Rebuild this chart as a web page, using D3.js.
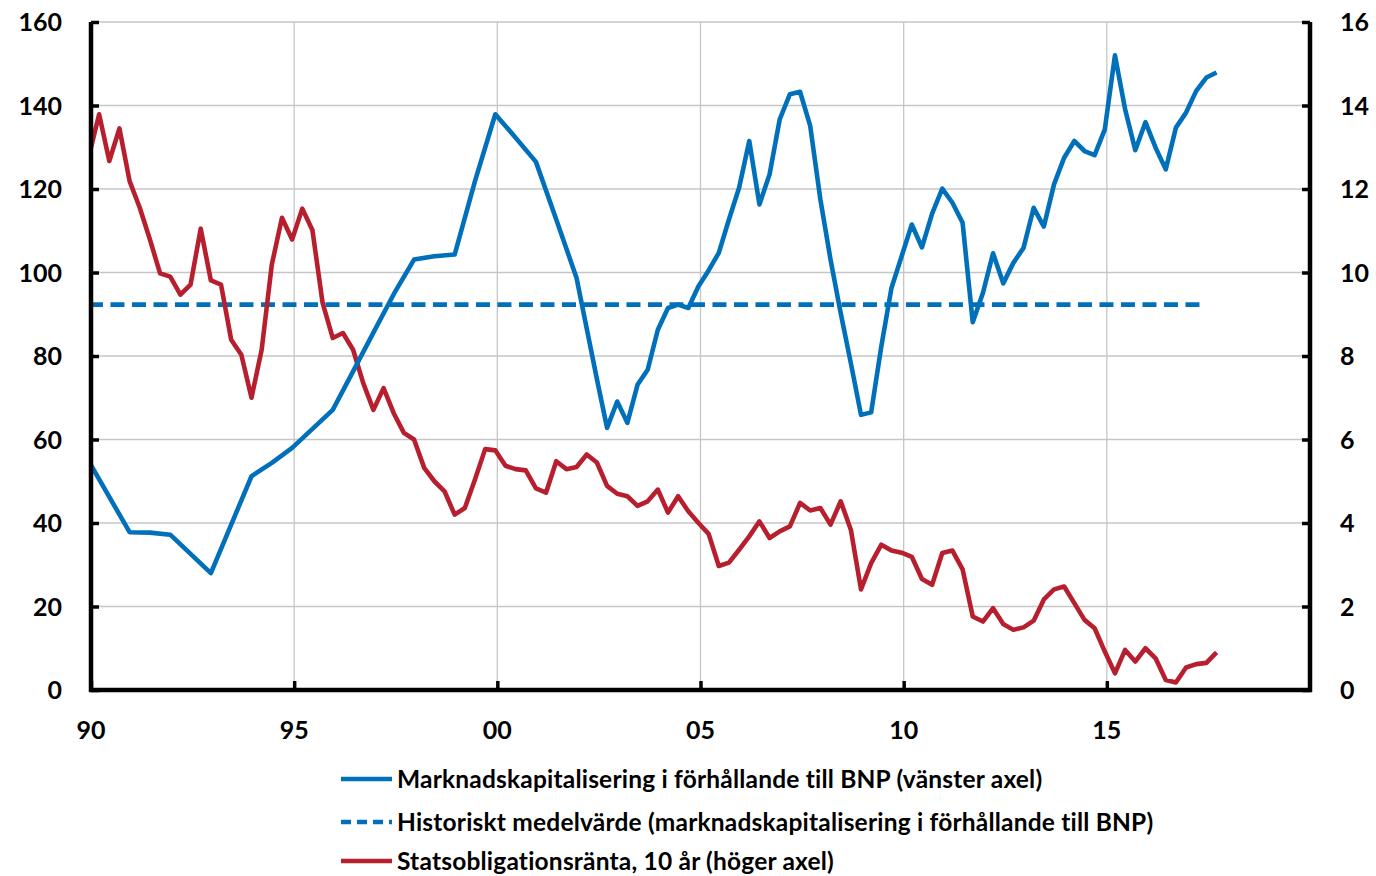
<!DOCTYPE html>
<html>
<head>
<meta charset="utf-8">
<script src="https://cdn.jsdelivr.net/npm/d3@7"></script>
<style>
  body { margin: 0; background: #fff; }
  text { font-family: Lato, "Open Sans", sans-serif; font-weight: 700; fill: #000; }
</style>
</head>
<body>
<div id="chart"></div>
<script>
// market cap / GDP (left axis), irregular dates before 2002Q3, quarterly after
var capDates = ["1989Q4","1990Q4","1991Q2","1991Q4","1992Q4","1993Q4","1994Q2","1994Q4","1995Q4",
  "1996Q2","1996Q4","1997Q2","1997Q4","1998Q2","1998Q4","1999Q2","1999Q4","2000Q2","2000Q4",
  "2001Q2","2001Q4","2002Q2","2002Q3","2002Q4",
  "2003Q1","2003Q2","2003Q3","2003Q4","2004Q1","2004Q2","2004Q3","2004Q4",
  "2005Q1","2005Q2","2005Q3","2005Q4","2006Q1","2006Q2","2006Q3","2006Q4",
  "2007Q1","2007Q2","2007Q3","2007Q4","2008Q1","2008Q2","2008Q3","2008Q4",
  "2009Q1","2009Q2","2009Q3","2009Q4","2010Q1","2010Q2","2010Q3","2010Q4",
  "2011Q1","2011Q2","2011Q3","2011Q4","2012Q1","2012Q2","2012Q3","2012Q4",
  "2013Q1","2013Q2","2013Q3","2013Q4","2014Q1","2014Q2","2014Q3","2014Q4",
  "2015Q1","2015Q2","2015Q3","2015Q4","2016Q1","2016Q2","2016Q3","2016Q4",
  "2017Q1","2017Q2","2017Q3"];
var capValues = [54.7,37.8,37.7,37.2,28.0,51.2,54.4,58.0,67.1,
  76.3,85.6,94.8,103.1,103.9,104.3,121.9,137.9,132.3,126.5,
  112.7,98.7,74.5,62.8,69.1,
  64.0,73.1,76.7,86.3,91.5,92.3,91.5,96.7,
  100.5,104.7,112.7,120.3,131.5,116.3,123.5,136.7,
  142.7,143.3,135.1,117.5,103.1,90.3,78.3,65.9,
  66.5,82.3,96.3,103.9,111.5,106.0,114.1,120.1,
  116.7,111.9,88.1,95.1,104.6,97.4,102.3,105.9,
  115.5,111.0,121.1,127.5,131.5,129.1,128.1,134.3,
  152.0,139.1,129.3,136.0,129.9,124.7,134.7,138.3,
  143.5,146.7,147.9];

// historical mean of market cap / GDP
var meanDates = ["1989Q4","2017Q2"];
var meanValue = 92.3;

// 10-year government bond yield (right axis), quarterly from 1989Q4
var bondStart = "1989Q4";
var bondValues = [12.79,
  13.79,12.67,13.45,12.19, 11.55,10.79,9.98,9.90, 9.47,9.71,11.05,9.81, 9.71,8.39,8.03,7.00,
  8.15,10.19,11.31,10.79, 11.53,11.01,9.27,8.43, 8.55,8.15,7.35,6.71, 7.23,6.63,6.16,6.00,
  5.32,5.00,4.76,4.20, 4.36,5.04,5.77,5.74, 5.37,5.29,5.26,4.83, 4.73,5.48,5.29,5.34,
  5.64,5.45,4.89,4.70, 4.64,4.41,4.52,4.80, 4.25,4.64,4.28,4.00, 3.74,2.97,3.05,3.36,
  3.68,4.04,3.64,3.80, 3.92,4.48,4.30,4.36, 3.96,4.52,3.84,2.41, 3.04,3.48,3.34,3.29,
  3.19,2.66,2.52,3.28, 3.34,2.89,1.76,1.64, 1.96,1.58,1.44,1.50, 1.66,2.17,2.41,2.48,
  2.08,1.68,1.48,0.92, 0.40,0.96,0.68,1.00, 0.76,0.24,0.18,0.54, 0.62,0.65,0.90];

var xTicks = [1990, 1995, 2000, 2005, 2010, 2015];
var xTickLabels = ["90", "95", "00", "05", "10", "15"];
var leftTicks = [0, 20, 40, 60, 80, 100, 120, 140, 160];
var rightTicks = [0, 2, 4, 6, 8, 10, 12, 14, 16];
var legendLabels = [
  "Marknadskapitalisering i förhållande till BNP (vänster axel)",
  "Historiskt medelvärde (marknadskapitalisering i förhållande till BNP)",
  "Statsobligationsränta, 10 år (höger axel)"
];

var blue = "#0070bb", red = "#b81f2e";

function quarterToYear(q) {
  var y = +q.slice(0, 4), n = +q.slice(5);
  return y + n * 0.25 - 0.05;
}
function nextQuarter(q, k) {
  var y = +q.slice(0, 4), n = +q.slice(5) - 1 + k;
  return (y + Math.floor(n / 4)) + "Q" + (n % 4 + 1);
}

var capData = capDates.map(function(d, i) { return {t: quarterToYear(d), v: capValues[i]}; });
var meanData = meanDates.map(function(d) { return {t: quarterToYear(d), v: meanValue}; });
var bondData = bondValues.map(function(v, i) { return {t: quarterToYear(nextQuarter(bondStart, i)), v: v}; });

var W = 1376, H = 876;
var margin = {left: 91, right: 66, top: 22, bottom: 186};
var width = W - margin.left - margin.right, height = H - margin.top - margin.bottom;

var svg = d3.select("#chart").append("svg")
  .attr("width", W).attr("height", H)
  .append("g")
  .attr("transform", "translate(" + margin.left + "," + margin.top + ")");

var x = d3.scaleLinear().domain([1990, 2020]).range([0, width]);
var yL = d3.scaleLinear().domain([0, 160]).range([height, 0]);
var yR = d3.scaleLinear().domain([0, 16]).range([height, 0]);

// gridlines
svg.append("g").selectAll("line").data(leftTicks.slice(1)).enter().append("line")
  .attr("x1", 0).attr("x2", width)
  .attr("y1", function(d) { return yL(d); }).attr("y2", function(d) { return yL(d); })
  .attr("stroke", "#c6c6c6").attr("stroke-width", 1.3);
svg.append("g").selectAll("line").data(xTicks.slice(1)).enter().append("line")
  .attr("x1", function(d) { return x(d); }).attr("x2", function(d) { return x(d); })
  .attr("y1", 0).attr("y2", height)
  .attr("stroke", "#c6c6c6").attr("stroke-width", 1.3);

// lines
var lineL = d3.line().x(function(d) { return x(d.t); }).y(function(d) { return yL(d.v); });
var lineR = d3.line().x(function(d) { return x(d.t); }).y(function(d) { return yR(d.v); });

var plot = svg.append("g");
plot.append("clipPath").attr("id", "clip").append("rect")
  .attr("x", 0).attr("y", -10).attr("width", width).attr("height", height + 10);
var lines = plot.append("g").attr("clip-path", "url(#clip)");

lines.append("path").datum(meanData).attr("d", lineL)
  .attr("fill", "none").attr("stroke", blue).attr("stroke-width", 4.6)
  .attr("stroke-dasharray", "14,7.5");
lines.append("path").datum(bondData).attr("d", lineR)
  .attr("fill", "none").attr("stroke", red).attr("stroke-width", 4.6)
  .attr("stroke-linejoin", "round");
lines.append("path").datum(capData).attr("d", lineL)
  .attr("fill", "none").attr("stroke", blue).attr("stroke-width", 4.6)
  .attr("stroke-linejoin", "round");

// axes
var axL = svg.append("g")
  .call(d3.axisRight(yL).tickValues(leftTicks).tickSize(8).tickFormat(""));
var axR = svg.append("g").attr("transform", "translate(" + width + ",0)")
  .call(d3.axisLeft(yR).tickValues(rightTicks).tickSize(8).tickFormat(""));
var axB = svg.append("g").attr("transform", "translate(0," + height + ")")
  .call(d3.axisTop(x).tickValues(xTicks).tickSize(9).tickFormat(""));
[axL, axR, axB].forEach(function(a) {
  a.select(".domain").attr("stroke", "#000").attr("stroke-width", 4.5);
  a.selectAll(".tick line").attr("stroke", "#000").attr("stroke-width", 3.5);
});
axL.select(".domain").attr("d", "M0," + (height + 2) + "V0");
axR.select(".domain").attr("d", "M0," + (height + 2) + "V0");
axB.select(".domain").attr("d", "M-2,0H" + (width + 2));

// tick labels
svg.append("g").selectAll("text").data(leftTicks).enter().append("text")
  .attr("x", -29).attr("y", function(d) { return yL(d); })
  .attr("dy", "0.36em").attr("text-anchor", "end").style("font-size", "25px")
  .text(function(d) { return d; });
svg.append("g").selectAll("text").data(rightTicks).enter().append("text")
  .attr("x", width + 30).attr("y", function(d) { return yR(d); })
  .attr("dy", "0.36em").attr("text-anchor", "start").style("font-size", "25px")
  .text(function(d) { return d; });
svg.append("g").selectAll("text").data(xTicks).enter().append("text")
  .attr("x", function(d) { return x(d); }).attr("y", height + 40)
  .attr("dy", "0.36em").attr("text-anchor", "middle").style("font-size", "25px")
  .text(function(d, i) { return xTickLabels[i]; });

// legend
var legend = svg.append("g").attr("transform", "translate(" + (341 - margin.left) + "," + (779 - margin.top) + ")");
legendLabels.forEach(function(label, i) {
  var row = legend.append("g").attr("transform", "translate(0," + [0, 43, 82][i] + ")");
  row.append("line").attr("x1", 0).attr("x2", 51).attr("y1", 0).attr("y2", 0)
    .attr("stroke", i == 2 ? red : blue).attr("stroke-width", 4.6)
    .attr("stroke-dasharray", i == 1 ? "10,6" : null);
  row.append("text").attr("x", 56).attr("y", 0).attr("dy", "0.36em")
    .style("font-size", "24.5px").style("letter-spacing", "0.2px").text(label);
});
</script>
</body>
</html>
